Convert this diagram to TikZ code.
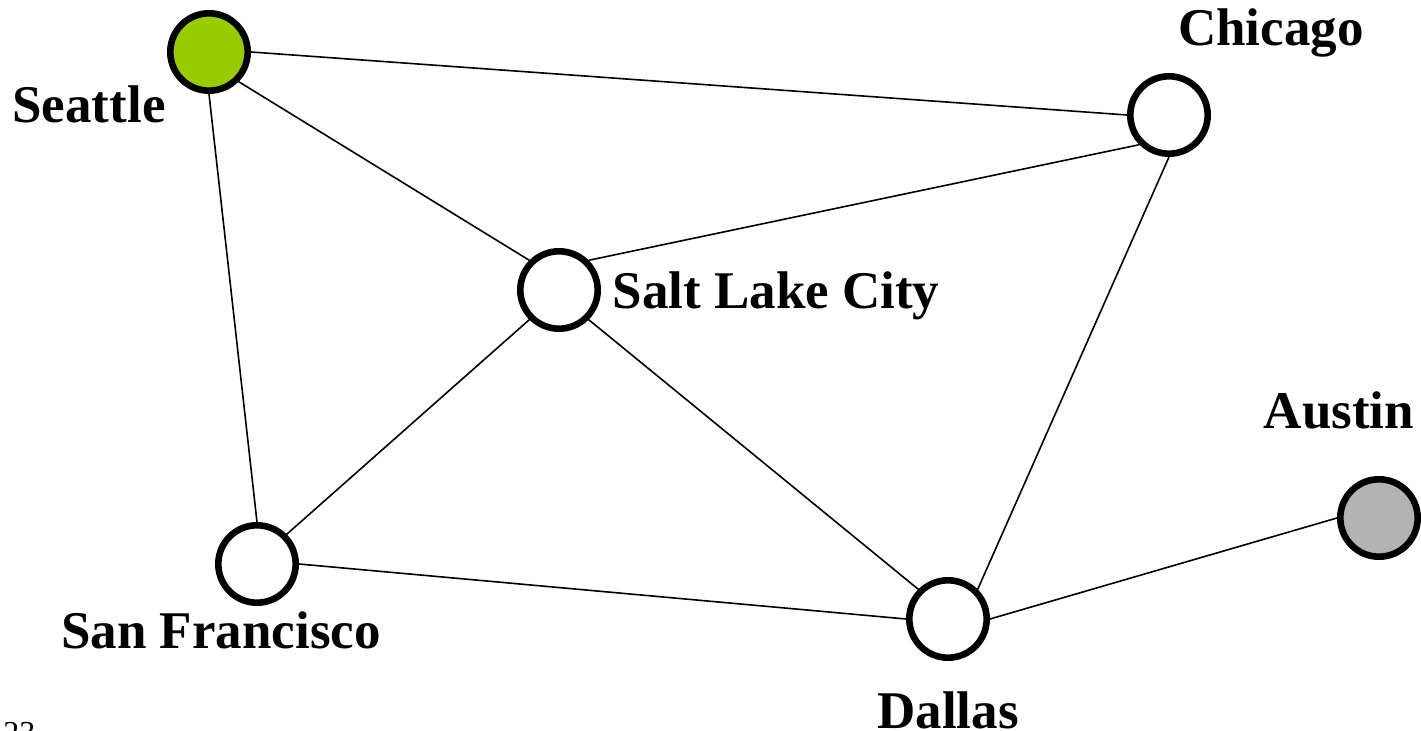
\documentclass[tikz,border=0pt]{standalone}
\usepackage{fontspec}
\setmainfont{Liberation Serif}
\begin{document}
\begin{tikzpicture}[x=0.5pt,y=-0.5pt,
  city/.style={circle,draw=black,line width=3.3pt,fill=white,minimum size=38.7pt,inner sep=0pt},
  lbl/.style={font=\fontsize{26.5}{30}\selectfont\bfseries,inner sep=0pt},
  edge/.style={line width=0.8pt}]
\clip (0,0) rectangle (1421,731);
\useasboundingbox (0,0) rectangle (1421,731);
\node[city,fill={rgb,255:red,153;green,204;blue,0}] (sea) at (209,52) {};
\node[city] (chi) at (1169,115) {};
\node[city] (slc) at (559,290) {};
\node[city] (sf) at (257,564) {};
\node[city] (dal) at (948,619) {};
\node[city,fill={rgb,255:red,179;green,179;blue,179}] (aus) at (1379,518) {};
\draw[edge] (sea.east) -- (chi.west);
\draw[edge] (sea.south east) -- (slc.north west);
\draw[edge] (sea.south) -- (sf.north);
\draw[edge] (chi.south west) -- (slc.north east);
\draw[edge] (chi.south) -- (dal.north east);
\draw[edge] (slc.south west) -- (sf.north east);
\draw[edge] (slc.south east) -- (dal.north west);
\draw[edge] (sf.east) -- (dal.west);
\draw[edge] (dal.east) -- (aus.west);
\node[lbl] (lsea) at (89,104) {Seattle};
\node[lbl] (lchi) at (1271,33) {Chicago};
\node[lbl] (lslc) at (776,296) {Salt Lake City};
\node[lbl] (laus) at (1339,410) {Austin};
\node[lbl] (lsf) at (221,630) {San Francisco};
\node[lbl] (ldal) at (948,710) {Dallas};
\node[font=\fontsize{16}{18}\selectfont,inner sep=0pt,anchor=north west] (pg) at (3,722) {23};
\end{tikzpicture}
\end{document}
